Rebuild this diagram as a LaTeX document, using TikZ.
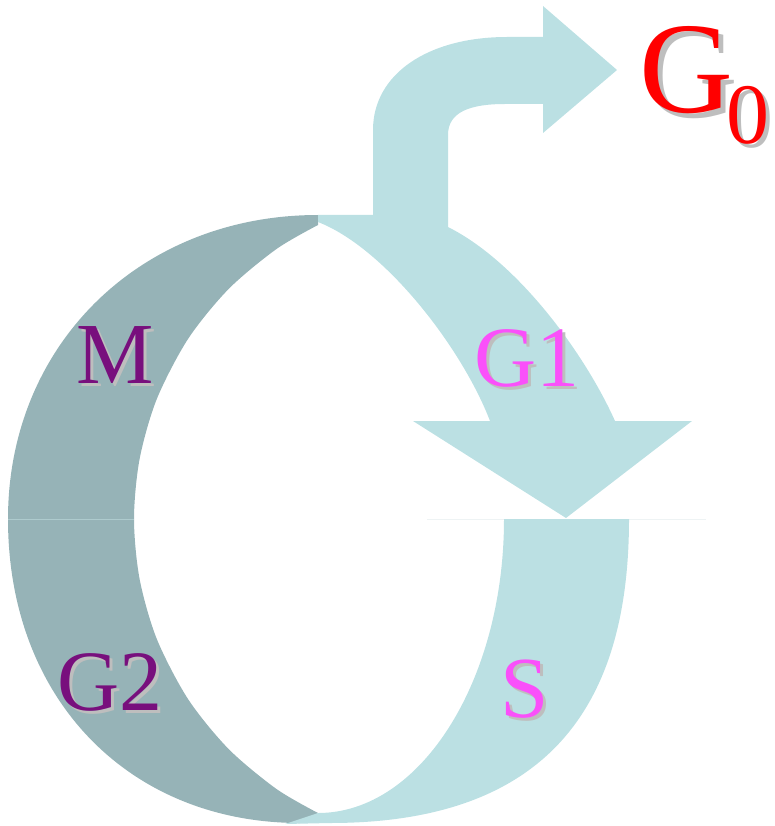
\documentclass[tikz,border=0pt]{standalone}
\usepackage{fontspec}
\setmainfont{Liberation Serif}
\definecolor{darkc}{HTML}{96B3B7}
\definecolor{lightc}{HTML}{BBE0E3}
\definecolor{purplec}{HTML}{780F7D}
\definecolor{magentac}{HTML}{FA50FA}
\definecolor{redc}{HTML}{FF0000}
\definecolor{shadowc}{HTML}{BEBEBE}
\definecolor{seamdark}{HTML}{AECBCE}
\definecolor{seamlight}{HTML}{EEF3F4}
\tikzset{
  lbl/.style={anchor=base, inner sep=0pt, outer sep=0pt},
  darkband/.style={fill=darkc},
  lightband/.style={fill=lightc},
}
\newcommand\shlabel[7]{% name, x, y, colour, size, shadow offset, text
  \node[lbl, text=shadowc, font=\fontsize{#5}{#5}\selectfont] (#1s) at (#2+#6,#3+#6) {#7};
  \node[lbl, text=#4, font=\fontsize{#5}{#5}\selectfont] (#1) at (#2,#3) {#7};}
\begin{document}
\begin{tikzpicture}[x=1pt,y=-1pt]
\useasboundingbox (0,0) rectangle (775,826);
% faint seams
\draw[seamlight, line width=1pt] (427,519) -- (706,519);
% dark crescent (M / G2)
\fill[darkband] (318,215) .. controls (140,215) and (8,345) .. (8,519)
  .. controls (8,700) and (130,823) .. (300,823) -- (318,813)
  -- plot[smooth] coordinates {(318,813) (276.5,789) (228.6,749) (188,699) (156.8,639) (139.6,579) (134,519) (139.6,459) (156.8,399) (188,339) (228.6,289) (276.5,249) (318,225)}
  -- cycle;
\draw[seamdark, line width=1pt] (8,519) -- (134,519);
% light band with G1 arrow and G0 arrow
\fill[lightband] (318,215) -- (373,215) -- (373,130)
  .. controls (373,74) and (428,37) .. (507,37) -- (543,37) -- (543,6) -- (617,70)
  -- (543,133) -- (543,104) -- (505,104) .. controls (470,104) and (448,112) .. (448,135)
  -- (448,227) .. controls (518,262) and (585,354) .. (615,421)
  -- (692,421) -- (566,518) -- (413,421) -- (490,421)
  .. controls (462,348) and (385,248) .. (318,222)
  -- cycle;
% light band S
\fill[lightband] (504,519) -- (629,519) .. controls (629,686) and (565,823) .. (330,823)
  -- (285,824) -- (318,813) .. controls (421,813) and (504,680) .. (504,519) -- cycle;
% labels
\shlabel{M}{115}{383}{purplec}{87}{3}{M}
\shlabel{G2}{110}{710}{purplec}{86}{3}{G2}
\shlabel{G1}{527}{386}{magentac}{86}{3}{G1}
\shlabel{S}{525}{717}{magentac}{87}{3}{S}
\shlabel{G0G}{686}{113}{redc}{130}{5}{G}
\shlabel{G0sub}{748}{144}{redc}{86}{4}{0}
\end{tikzpicture}
\end{document}
